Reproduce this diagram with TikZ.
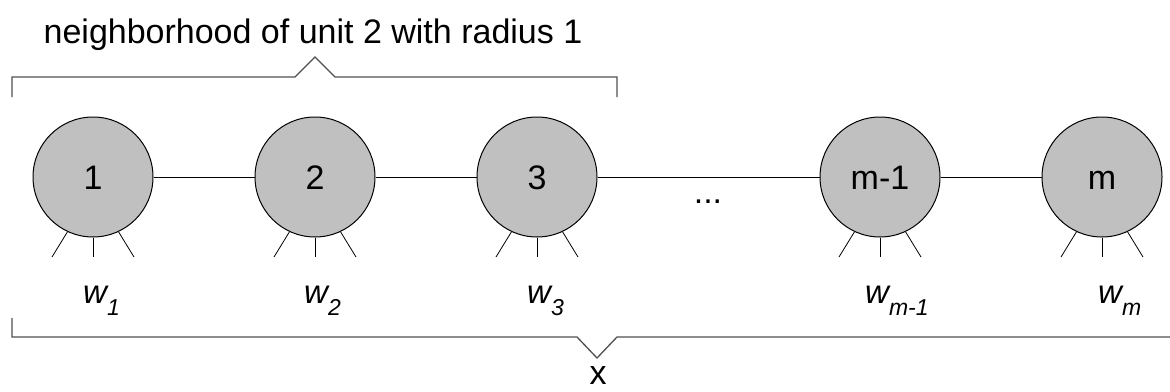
\documentclass[tikz,border=0pt]{standalone}
\usepackage{fontspec}
\setmainfont{Liberation Sans}
\usetikzlibrary{calc}
\definecolor{unitgray}{RGB}{192,192,192}
\definecolor{bracegray}{RGB}{80,80,80}
\tikzset{
  unit/.style={circle, draw=black, line width=1pt, fill=unitgray, minimum size=120pt, inner sep=0pt,
    font=\fontsize{34}{34}\selectfont, text height=24pt, text depth=0pt},
  link/.style={draw=black, line width=0.8pt},
  spoke/.style={draw=black, line width=0.8pt},
  bracket/.style={draw=bracegray, line width=1.3pt},
  wlabel/.style={anchor=base west, inner sep=0pt, font=\fontsize{33}{33}\selectfont\itshape},
  plain/.style={inner sep=0pt, font=\fontsize{34}{34}\selectfont}
}
\newcommand{\wsub}[1]{w\raisebox{-12pt}{\fontsize{23}{23}\selectfont\itshape #1}}
\begin{document}
\begin{tikzpicture}[x=1pt,y=-1pt]
\useasboundingbox (0,0) rectangle (1170,391);

% top brace and text
\node[plain, anchor=base] (top) at (313,43) {neighborhood of unit 2 with radius 1};
\coordinate (tl) at (12,97);
\coordinate (tr) at (617,97);
\draw[bracket] (tl) -- (12,77) -- (295,77) -- (315,57) -- (335,77) -- (617,77) -- (tr);

% units
\node[unit] (u1) at (93,177) {1};
\node[unit] (u2) at (315,177) {2};
\node[unit] (u3) at (537,177) {3};
\node[unit] (u4) at (880,177) {m-1};
\node[unit] (u5) at (1102,177) {m};

\draw[link] (u1) -- (u2);
\draw[link] (u2) -- (u3);
\draw[link] (u3) -- (u4);
\draw[link] (u4) -- (u5);

\node[plain, anchor=base] (dots) at (708,203) {...};

% spokes
\foreach \u in {u1,u2,u3,u4,u5}{
  \draw[spoke] (\u.-115) -- ($(\u.center)+(-41,80)$);
  \draw[spoke] (\u.south) -- ($(\u.center)+(0,80)$);
  \draw[spoke] (\u.-65) -- ($(\u.center)+(41,80)$);
}

% weight labels
\node[wlabel] (w1) at (83,303) {\wsub{1}};
\node[wlabel] (w2) at (304,303) {\wsub{2}};
\node[wlabel] (w3) at (527,303) {\wsub{3}};
\node[wlabel] (w4) at (865,303) {\wsub{m-1}};
\node[wlabel] (w5) at (1098,303) {\wsub{m}};

% bottom brace and x
\coordinate (bl) at (12,318);
\coordinate (br) at (1182,318);
\draw[bracket] (bl) -- (12,337) -- (577,337) -- (597,358) -- (617,337) -- (1182,337) -- (br);
\node[plain, anchor=base] (x) at (598,384) {x};
\end{tikzpicture}
\end{document}
